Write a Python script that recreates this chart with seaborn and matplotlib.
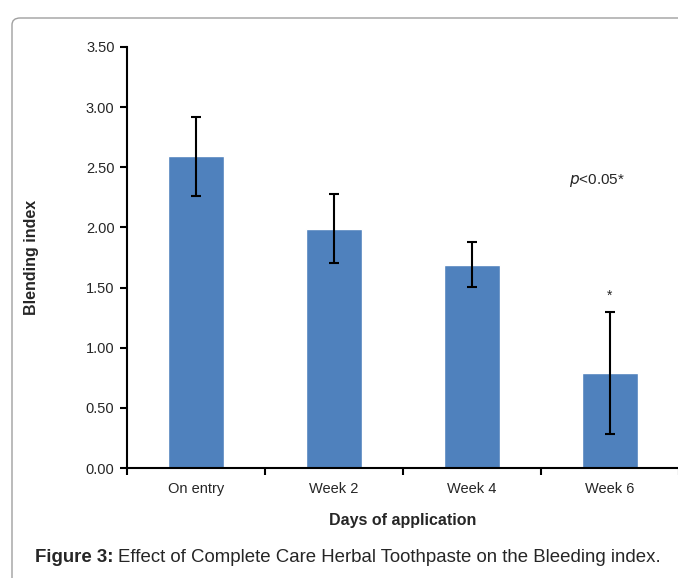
import numpy as np
import pandas as pd
import seaborn as sns
import matplotlib.pyplot as plt
from matplotlib.patches import FancyBboxPatch
from matplotlib.transforms import offset_copy

# data
days = ["On entry", "Week 2", "Week 4", "Week 6"]
bleeding_index = [2.59, 1.99, 1.69, 0.79]
sd = [0.325, 0.285, 0.185, 0.51]
yticks = [0.0, 0.5, 1.0, 1.5, 2.0, 2.5, 3.0, 3.5]

sns.set_theme(style="white")
plt.rcParams["font.family"] = ["Liberation Sans", "DejaVu Sans"]

df = pd.DataFrame({"day": days, "index": bleeding_index, "sd": sd})

fig = plt.figure(figsize=(6.78, 5.78), dpi=100)
ax = fig.add_axes([127 / 678, 1 - 468 / 578, 552 / 678, 421 / 578])

# rounded frame around the figure
frame = FancyBboxPatch(
    (12 / 678, -0.2), 1.2, 1 - 18 / 578 + 0.2,
    boxstyle="round,pad=0,rounding_size=0.012",
    transform=fig.transFigure, facecolor="none", edgecolor="#a0a0a0",
    linewidth=1.0, zorder=0,
)
fig.patches.append(frame)

sns.barplot(data=df, x="day", y="index", color="#4F81BD", width=0.4,
            saturation=1, errorbar=None, ax=ax)
ax.errorbar(np.arange(len(days)), df["index"], yerr=df["sd"], fmt="none",
            ecolor="black", elinewidth=1.5, capsize=3.5, capthick=1.5)

ax.set_xlim(-0.5, 3.5)
ax.set_ylim(0, 3.5)
ax.set_yticks(yticks)
ax.set_yticklabels([f"{v:.2f}" for v in yticks], fontsize=10.5)
ax.set_xticks(np.arange(-0.5, 4.0, 1.0))
ax.set_xticklabels([])
ax.set_xticks(np.arange(len(days)), minor=True)
ax.set_xticklabels(days, minor=True, fontsize=10.5)
ax.tick_params(axis="x", which="minor", length=0, pad=10)
ax.tick_params(axis="both", which="major", direction="out", length=5,
               width=1.5, color="black", left=True, bottom=True)
ax.tick_params(axis="y", pad=4)

for side in ["top", "right"]:
    ax.spines[side].set_visible(False)
for side in ["left", "bottom"]:
    ax.spines[side].set_color("black")
    ax.spines[side].set_linewidth(1.5)

ax.set_xlabel("Days of application", fontsize=11.5, fontweight="bold", labelpad=12)
ax.set_ylabel("Blending index", fontsize=11.5, fontweight="bold", labelpad=34)

ax.text(3, bleeding_index[3] + sd[3] + 0.07, "*", ha="center", va="bottom", fontsize=10)
ax.text(2.7, 2.39, "$p$<0.05*", ha="left", va="center", fontsize=11,
        math_fontfamily="dejavusans")

fig_label = fig.text(35 / 678, 1 - 557 / 578, "Figure 3:", fontsize=13.4,
                     fontweight="bold", ha="left", va="center")
fig.canvas.draw()
label_w = fig_label.get_window_extent().width
fig.text(35 / 678, 1 - 557 / 578,
         "Effect of Complete Care Herbal Toothpaste on the Bleeding index.",
         fontsize=13.4, ha="left", va="center",
         transform=offset_copy(fig.transFigure, fig=fig, x=label_w + 5, units="dots"))

fig.savefig("out.png", dpi=100)
